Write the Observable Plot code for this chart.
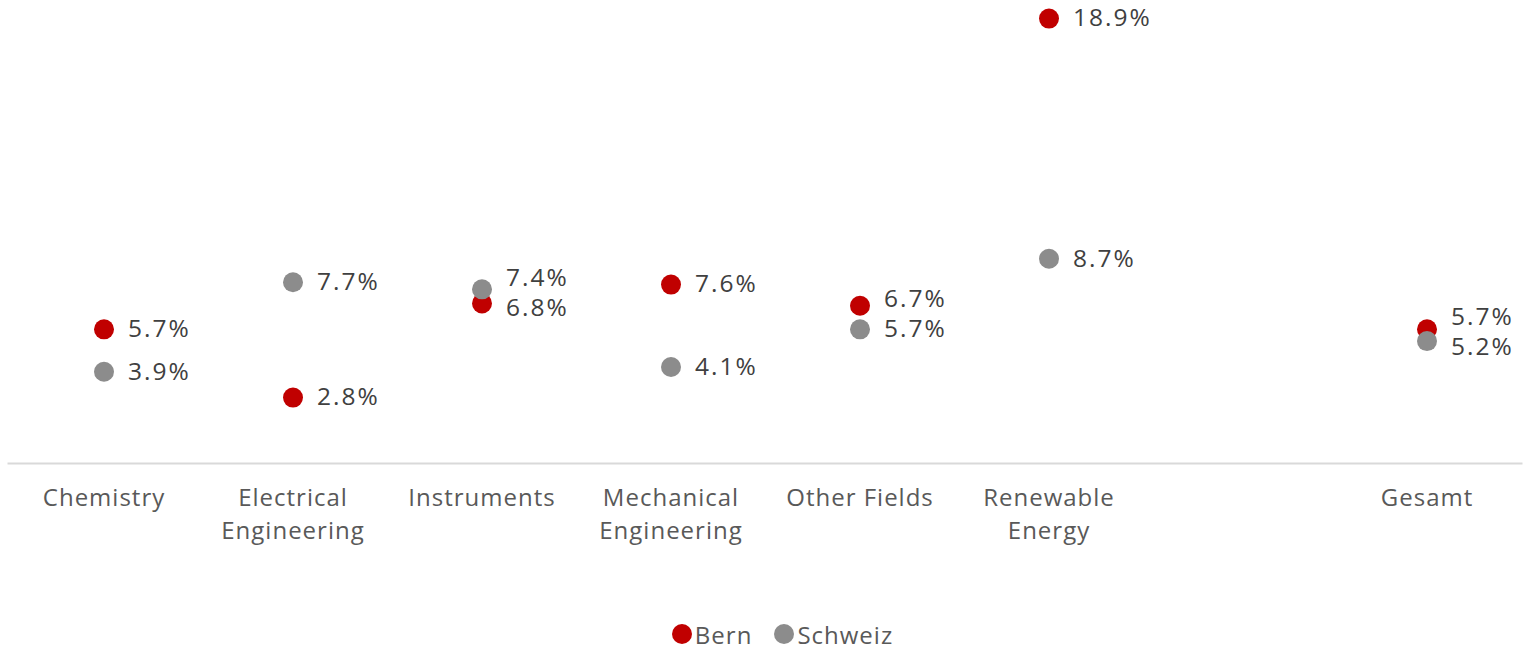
<!DOCTYPE html>
<html>
<head>
<meta charset="utf-8">
<script src="https://cdn.jsdelivr.net/npm/d3@7"></script>
<script src="https://cdn.jsdelivr.net/npm/@observablehq/plot@0.6"></script>
<style>
  body { margin: 0; background: #fff; font-family: "Open Sans", sans-serif; }
  #legend { display: flex; justify-content: center; align-items: center; gap: 22px; height: 38px;
            font-size: 24px; color: #595959; padding-left: 40px; letter-spacing: 1px; }
  .item { display: flex; align-items: center; gap: 3px; }
  .sw { width: 20px; height: 20px; border-radius: 50%; display: inline-block; }
  svg text { letter-spacing: 1px; }
  svg g.vlab text { letter-spacing: 2px; }
</style>
</head>
<body>
<div id="chart"></div>
<div id="legend"></div>
<script>
const categories = ["Chemistry", "Electrical\nEngineering", "Instruments", "Mechanical\nEngineering", "Other Fields", "Renewable\nEnergy", "", "Gesamt"];
const series = ["Bern", "Schweiz"];
const bern    = [5.7, 2.8, 6.8, 7.6, 6.7, 18.9, null, 5.7];
const schweiz = [3.9, 7.7, 7.4, 4.1, 5.7, 8.7, null, 5.2];
const colors = ["#C00000", "#8C8C8C"];

const pxPerPoint = 463 / 19.67;
const minSep = 30 / pxPerPoint;

const data = [];
categories.forEach((c, i) => {
  const b = bern[i], s = schweiz[i];
  if (b == null) return;
  let lb = b, ls = s;
  if (Math.abs(b - s) < minSep) {
    const mid = (b + s) / 2 + 0.15;
    const hi = b >= s ? "b" : "s";
    lb = hi === "b" ? mid + minSep / 2 : mid - minSep / 2;
    ls = hi === "s" ? mid + minSep / 2 : mid - minSep / 2;
  }
  data.push({cat: c, series: "Bern", value: b, ly: lb});
  data.push({cat: c, series: "Schweiz", value: s, ly: ls});
});

const chart = Plot.plot({
  width: 1525,
  height: 615,
  marginLeft: 7.5,
  marginRight: 2.5,
  marginTop: 0,
  marginBottom: 152,
  style: {fontFamily: "'Open Sans', sans-serif", background: "#fff"},
  x: {type: "band", domain: categories, padding: 0, label: null},
  y: {domain: [0, 19.67], axis: null},
  color: {domain: series, range: colors},
  marks: [
    Plot.ruleY([0], {stroke: "#D9D9D9", strokeWidth: 2}),
    Plot.axisX({tickSize: 0, tickPadding: 19, fontSize: 24, lineHeight: 1.38, fill: "#595959", tickFormat: d => d, label: null}),
    Plot.dot(data, {x: "cat", y: "value", r: 10, fill: "series"}),
    Plot.text(data, {x: "cat", y: "ly", text: d => d.value.toFixed(1) + "%", dx: 24, textAnchor: "start", fontSize: 24.5, fill: "#404040", className: "vlab"})
  ]
});
document.getElementById("chart").appendChild(chart);

const legend = document.getElementById("legend");
series.forEach((s, i) => {
  const item = document.createElement("span");
  item.className = "item";
  item.innerHTML = `<span class="sw" style="background:${colors[i]}"></span><span>${s}</span>`;
  legend.appendChild(item);
});
</script>
</body>
</html>
